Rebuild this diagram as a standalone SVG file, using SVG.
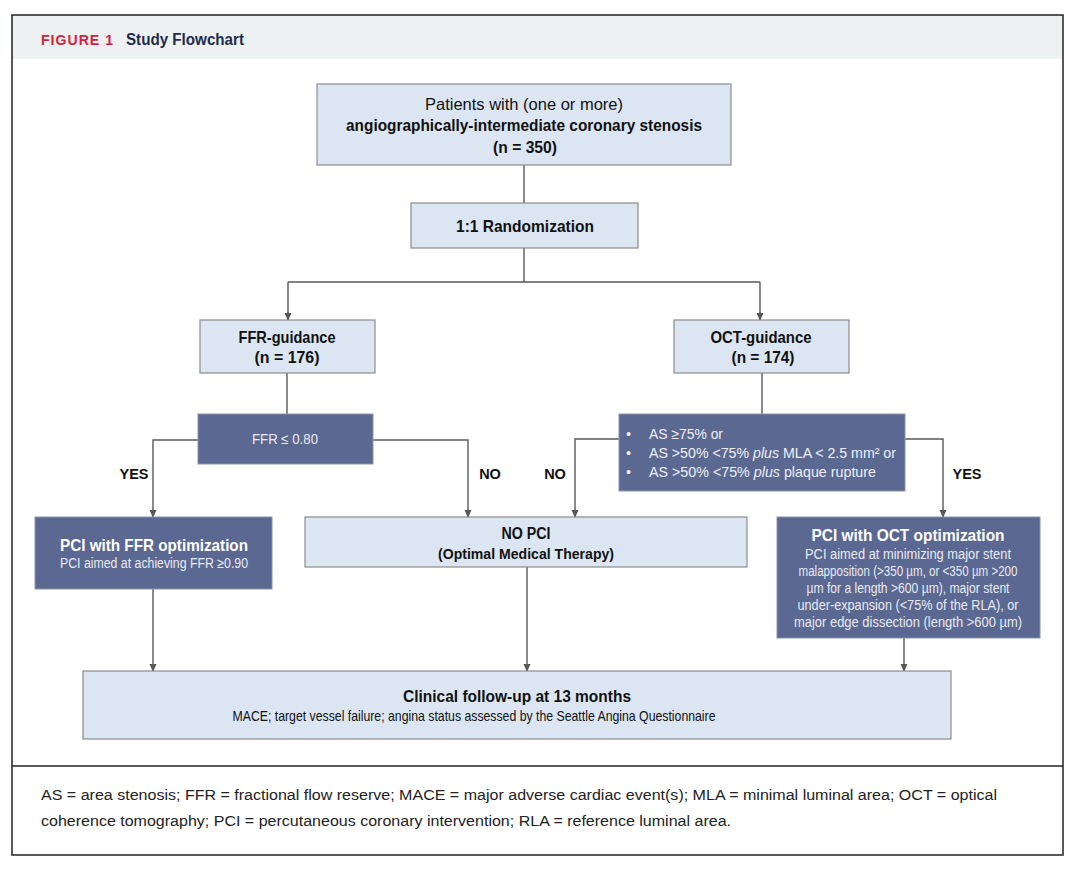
<svg xmlns="http://www.w3.org/2000/svg" width="1072" height="871" viewBox="0 0 1072 871">
<defs>
<marker id="arr" markerWidth="8" markerHeight="8" refX="7" refY="4" orient="auto" markerUnits="userSpaceOnUse">
<path d="M0,0.5 L8,4 L0,7.5 Z" fill="#595959"/>
</marker>
<style>
.light{fill:#dce6f2;stroke:#8c8c8c;stroke-width:1.2}
.dark{fill:#5b6891;stroke:#8a93ad;stroke-width:1}
.t{font-family:"Liberation Sans",Arial,sans-serif;fill:#111;text-anchor:middle}
.b{font-weight:bold}
.w{fill:#ffffff}
.wl{fill:#e8ebf3}
.lbl{font-family:"Liberation Sans",Arial,sans-serif;font-weight:bold;font-size:14.5px;fill:#111;text-anchor:middle}
.c{fill:none;stroke:#595959;stroke-width:1.4}
.foot{font-family:"Liberation Sans",Arial,sans-serif;font-size:15.5px;fill:#222}
</style>
</defs>
<rect x="0" y="0" width="1072" height="871" fill="#ffffff"/>
<rect x="12" y="15" width="1051" height="44" fill="#eef1f2"/>
<rect x="12" y="15" width="1051" height="840" fill="none" stroke="#222" stroke-width="1.5"/>
<line x1="12" y1="766" x2="1063" y2="766" stroke="#222" stroke-width="1.5"/>
<g id="header">
<text x="41" y="44.5" font-family="'Liberation Sans',Arial,sans-serif" font-weight="bold" font-size="14" fill="#d2233c" textLength="73" lengthAdjust="spacingAndGlyphs" letter-spacing="1">FIGURE 1</text>
<text x="126" y="44.5" font-family="'Liberation Sans',Arial,sans-serif" font-weight="bold" font-size="16" fill="#1d2b4f" textLength="118" lengthAdjust="spacingAndGlyphs">Study Flowchart</text>
</g>
<g id="connectors">
<line class="c" x1="524" y1="165" x2="524" y2="203"/>
<polyline class="c" points="524,248 524,282"/>
<polyline class="c" points="288,282 760,282"/>
<line class="c" x1="288" y1="282" x2="288" y2="320" marker-end="url(#arr)"/>
<line class="c" x1="760" y1="282" x2="760" y2="320" marker-end="url(#arr)"/>
<line class="c" x1="287" y1="373" x2="287" y2="414"/>
<line class="c" x1="762" y1="373" x2="762" y2="414"/>
<polyline class="c" points="198,440 153,440 153,517" marker-end="url(#arr)"/>
<polyline class="c" points="373,440 468,440 468,517" marker-end="url(#arr)"/>
<polyline class="c" points="619,439 575,439 575,517" marker-end="url(#arr)"/>
<polyline class="c" points="905,439 943,439 943,517" marker-end="url(#arr)"/>
<line class="c" x1="153" y1="589" x2="153" y2="671" marker-end="url(#arr)"/>
<line class="c" x1="527" y1="567" x2="527" y2="671" marker-end="url(#arr)"/>
<line class="c" x1="904" y1="638" x2="904" y2="671" marker-end="url(#arr)"/>
<text class="lbl" x="134" y="479">YES</text>
<text class="lbl" x="490" y="479">NO</text>
<text class="lbl" x="555" y="479">NO</text>
<text class="lbl" x="967" y="479">YES</text>
</g>
<g id="patients">
<rect class="light" x="317" y="84" width="414" height="81"/>
<text class="t" x="524" y="110" font-size="16.5" textLength="198" lengthAdjust="spacingAndGlyphs">Patients with (one or more)</text>
<text class="t b" x="524" y="131" font-size="16.5" textLength="356" lengthAdjust="spacingAndGlyphs">angiographically-intermediate coronary stenosis</text>
<text class="t b" x="525" y="152.5" font-size="16.5" textLength="64" lengthAdjust="spacingAndGlyphs">(n = 350)</text>
</g>
<g id="randomization">
<rect class="light" x="411" y="203" width="227" height="45"/>
<text class="t b" x="525" y="231.5" font-size="16.5" textLength="138" lengthAdjust="spacingAndGlyphs">1:1 Randomization</text>
</g>
<g id="ffr-guidance">
<rect class="light" x="200" y="320" width="175" height="53"/>
<text class="t b" x="287" y="342.5" font-size="16.5" textLength="97" lengthAdjust="spacingAndGlyphs">FFR-guidance</text>
<text class="t b" x="287" y="362.5" font-size="16.5" textLength="65" lengthAdjust="spacingAndGlyphs">(n = 176)</text>
</g>
<g id="oct-guidance">
<rect class="light" x="674" y="320" width="175" height="53"/>
<text class="t b" x="761" y="342.5" font-size="16.5" textLength="101" lengthAdjust="spacingAndGlyphs">OCT-guidance</text>
<text class="t b" x="763" y="362.5" font-size="16.5" textLength="63" lengthAdjust="spacingAndGlyphs">(n = 174)</text>
</g>
<g id="ffr-criterion">
<rect class="dark" x="198" y="414" width="175" height="50"/>
<text class="t wl" x="285" y="444" font-size="14.5" textLength="66" lengthAdjust="spacingAndGlyphs">FFR ≤ 0.80</text>
</g>
<g id="oct-criteria">
<rect class="dark" x="619" y="414" width="286" height="77"/>
<g font-family="'Liberation Sans',Arial,sans-serif" font-size="14.5" fill="#eef0f6">
<text x="626" y="439">•</text>
<text x="626" y="458">•</text>
<text x="626" y="477">•</text>
<text x="649" y="439" textLength="74" lengthAdjust="spacingAndGlyphs">AS ≥75% or</text>
<text x="649" y="458" textLength="247" lengthAdjust="spacingAndGlyphs">AS &gt;50% &lt;75% <tspan font-style="italic">plus</tspan> MLA &lt; 2.5 mm² or</text>
<text x="649" y="477" textLength="227" lengthAdjust="spacingAndGlyphs">AS &gt;50% &lt;75% <tspan font-style="italic">plus</tspan> plaque rupture</text>
</g>
</g>
<g id="pci-ffr">
<rect class="dark" x="35" y="517" width="237" height="72"/>
<text class="t b w" x="154" y="550.5" font-size="17" textLength="188" lengthAdjust="spacingAndGlyphs">PCI with FFR optimization</text>
<text class="t wl" x="154" y="568" font-size="14" textLength="188" lengthAdjust="spacingAndGlyphs">PCI aimed at achieving FFR ≥0.90</text>
</g>
<g id="no-pci">
<rect class="light" x="305" y="517" width="442" height="50"/>
<text class="t b" x="526" y="538.5" font-size="16" textLength="49" lengthAdjust="spacingAndGlyphs">NO PCI</text>
<text class="t b" x="526" y="558.5" font-size="15" textLength="176" lengthAdjust="spacingAndGlyphs">(Optimal Medical Therapy)</text>
</g>
<g id="pci-oct">
<rect class="dark" x="777" y="517" width="263" height="121"/>
<text class="t b w" x="908" y="540.5" font-size="17" textLength="193" lengthAdjust="spacingAndGlyphs">PCI with OCT optimization</text>
<text class="t wl" x="908" y="558.5" font-size="14" textLength="206" lengthAdjust="spacingAndGlyphs">PCI aimed at minimizing major stent</text>
<text class="t wl" x="908" y="575.5" font-size="14" textLength="219" lengthAdjust="spacingAndGlyphs">malapposition (&gt;350 µm, or &lt;350 µm &gt;200</text>
<text class="t wl" x="908" y="592.5" font-size="14" textLength="203" lengthAdjust="spacingAndGlyphs">µm for a length &gt;600 µm), major stent</text>
<text class="t wl" x="908" y="609.5" font-size="14" textLength="221" lengthAdjust="spacingAndGlyphs">under-expansion  (&lt;75% of the RLA), or</text>
<text class="t wl" x="908" y="626.5" font-size="14" textLength="228" lengthAdjust="spacingAndGlyphs">major edge dissection (length &gt;600 µm)</text>
</g>
<g id="follow-up">
<rect class="light" x="83" y="671" width="868" height="68"/>
<text class="t b" x="517" y="701.5" font-size="17" textLength="228" lengthAdjust="spacingAndGlyphs">Clinical follow-up at 13 months</text>
<text class="t" x="474" y="720.5" font-size="14.5" textLength="483" lengthAdjust="spacingAndGlyphs">MACE; target vessel failure; angina status assessed by the Seattle Angina Questionnaire</text>
</g>
<g id="footnote">
<text class="foot" x="41" y="800" textLength="956" lengthAdjust="spacingAndGlyphs">AS = area stenosis; FFR = fractional flow reserve; MACE = major adverse cardiac event(s); MLA = minimal luminal area; OCT = optical</text>
<text class="foot" x="41" y="826" textLength="690" lengthAdjust="spacingAndGlyphs">coherence tomography; PCI = percutaneous coronary intervention; RLA = reference luminal area.</text>
</g>
</svg>
